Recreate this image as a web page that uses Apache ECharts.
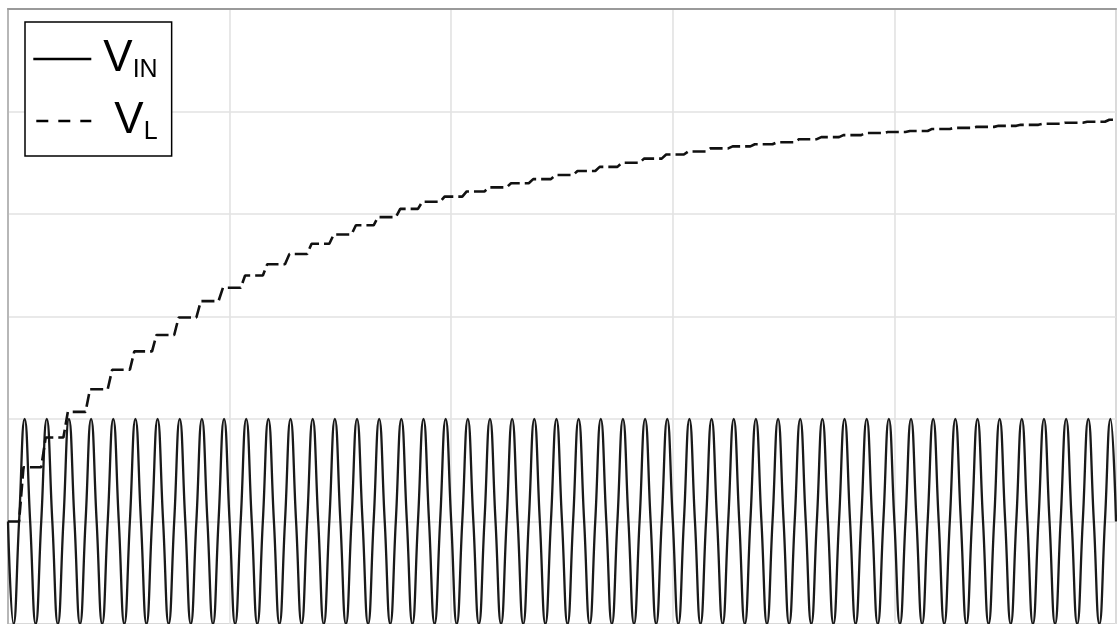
<!DOCTYPE html>
<html>
<head>
<meta charset="utf-8">
<script src="https://cdn.jsdelivr.net/npm/echarts@6/dist/echarts.min.js"></script>
<style>
html,body{margin:0;padding:0;background:#fff;}
#chart{width:1117px;height:624px;}
</style>
</head>
<body>
<div id="chart"></div>
<script>
// ---- data ----
const seriesNames = ['VIN', 'VL'];
const xTicks = [0, 0.2, 0.4, 0.6, 0.8, 1.0];   // time (s), no labels shown
const yTicks = [-1, 0, 1, 2, 3, 4, 5];         // volts, no labels shown

// VIN: sampled every quarter period (0.005 s): zero, trough, zero, peak ...
const vinSampleStep = 0.005;
const vinValues = [
  0,-1,0,1, 0,-1,0,1, 0,-1,0,1, 0,-1,0,1, 0,-1,0,1,
  0,-1,0,1, 0,-1,0,1, 0,-1,0,1, 0,-1,0,1, 0,-1,0,1,
  0,-1,0,1, 0,-1,0,1, 0,-1,0,1, 0,-1,0,1, 0,-1,0,1,
  0,-1,0,1, 0,-1,0,1, 0,-1,0,1, 0,-1,0,1, 0,-1,0,1,
  0,-1,0,1, 0,-1,0,1, 0,-1,0,1, 0,-1,0,1, 0,-1,0,1,
  0,-1,0,1, 0,-1,0,1, 0,-1,0,1, 0,-1,0,1, 0,-1,0,1,
  0,-1,0,1, 0,-1,0,1, 0,-1,0,1, 0,-1,0,1, 0,-1,0,1,
  0,-1,0,1, 0,-1,0,1, 0,-1,0,1, 0,-1,0,1, 0,-1,0,1,
  0,-1,0,1, 0,-1,0,1, 0,-1,0,1, 0,-1,0,1, 0,-1,0,1,
  0,-1,0,1, 0,-1,0,1, 0,-1,0,1, 0,-1,0,1, 0,-1,0,1,
  0
];

// VL: staircase, one step per input period; plateau level after each step
const vlPeriod = 0.02;
const vlStart = 0;
const vlRisePhase = [0.5, 0.7];   // fraction of the period where each step rises
const vlLevels = [
  0.53, 0.82, 1.07, 1.29, 1.48, 1.66, 1.82, 1.99, 2.15, 2.28,
  2.40, 2.51, 2.61, 2.71, 2.80, 2.89, 2.97, 3.05, 3.12, 3.17,
  3.22, 3.26, 3.30, 3.34, 3.38, 3.42, 3.46, 3.50, 3.54, 3.58,
  3.61, 3.64, 3.66, 3.68, 3.70, 3.73, 3.75, 3.77, 3.79, 3.80,
  3.81, 3.83, 3.84, 3.85, 3.86, 3.87, 3.88, 3.89, 3.90, 3.92
];

// ---- build series data ----
const vinData = vinValues.map((v, i) => [+(i * vinSampleStep).toFixed(4), v]);
const vlData = [[0, vlStart]];
let prev = vlStart;
vlLevels.forEach((lv, k) => {
  vlData.push([(k + vlRisePhase[0]) * vlPeriod, prev]);
  vlData.push([(k + vlRisePhase[1]) * vlPeriod, lv]);
  prev = lv;
});
vlData.push([xTicks[xTicks.length - 1], prev]);

const chart = echarts.init(document.getElementById('chart'), null, {renderer: 'canvas'});
const FONT = '"Liberation Sans", Arial, sans-serif';
const hiddenSymbol = {opacity: 0, borderWidth: 0, color: 'transparent'};

chart.setOption({
  animation: false,
  backgroundColor: '#fff',
  grid: {
    left: 8, right: 1, top: 9, bottom: 0,
    show: true, borderColor: '#ababab', borderWidth: 1.5, backgroundColor: 'transparent'
  },
  xAxis: {
    type: 'value', position: 'top',
    min: xTicks[0], max: xTicks[xTicks.length - 1], interval: xTicks[1] - xTicks[0],
    axisLine: {show: true, onZero: false, lineStyle: {color: '#9a9a9a', width: 2}},
    axisTick: {show: false}, axisLabel: {show: false},
    splitLine: {show: true, lineStyle: {color: '#e2e2e2', width: 1.6}}
  },
  yAxis: {
    type: 'value', position: 'left',
    min: yTicks[0], max: yTicks[yTicks.length - 1], interval: yTicks[1] - yTicks[0],
    axisLine: {show: true, onZero: false, lineStyle: {color: '#ababab', width: 1.5}},
    axisTick: {show: false}, axisLabel: {show: false},
    splitLine: {show: true, lineStyle: {color: '#e2e2e2', width: 1.6}}
  },
  legend: {
    orient: 'vertical', left: 25, top: 22,
    padding: [15, 14, 11, 7],
    itemGap: 16, itemWidth: 58, itemHeight: 20,
    backgroundColor: '#fff', borderColor: '#000', borderWidth: 1.5, borderRadius: 0,
    itemStyle: hiddenSymbol,
    data: [
      {name: 'VIN', itemStyle: hiddenSymbol, lineStyle: {width: 2.6, color: '#000'}},
      {name: 'VL', itemStyle: hiddenSymbol, lineStyle: {width: 2.6, color: '#000', type: [12, 10], dashOffset: 19}}
    ],
    formatter: function (name) {
      return name === 'VIN' ? '{v|V}{s|IN}' : '{v2|V}{s|L}';
    },
    textStyle: {
      color: '#000', fontFamily: FONT,
      rich: {
        v: {fontSize: 44, lineHeight: 48, fontFamily: FONT, color: '#000', padding: [0, 0, 0, 7]},
        v2: {fontSize: 44, lineHeight: 48, fontFamily: FONT, color: '#000', padding: [0, 0, 0, 18]},
        s: {fontSize: 25, lineHeight: 31, fontFamily: FONT, color: '#000', verticalAlign: 'bottom'}
      }
    }
  },
  series: [
    {
      name: seriesNames[0], type: 'line', data: vinData,
      symbol: 'none', showSymbol: false, smooth: true,
      itemStyle: {color: '#000'},
      lineStyle: {color: '#1a1a1a', width: 2.3},
      z: 2
    },
    {
      name: seriesNames[1], type: 'line', data: vlData,
      symbol: 'none', showSymbol: false,
      itemStyle: {color: '#000'},
      lineStyle: {color: '#111', width: 2.6, type: [13, 5]},
      z: 3
    }
  ]
});
</script>
</body>
</html>
